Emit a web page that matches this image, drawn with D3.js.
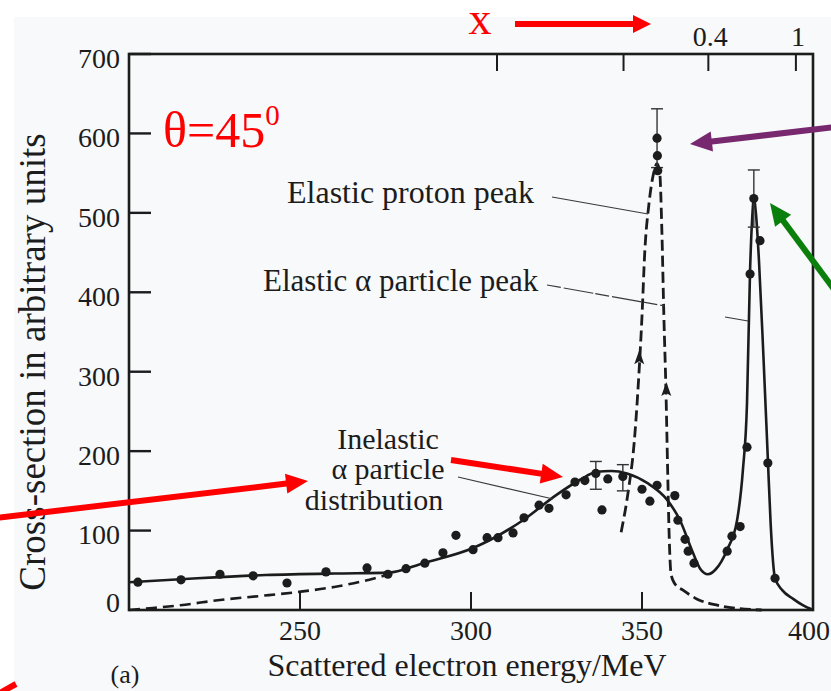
<!DOCTYPE html>
<html>
<head>
<meta charset="utf-8">
<script src="https://cdn.jsdelivr.net/npm/d3@7"></script>
<style>
  html, body { margin: 0; padding: 0; background: #ffffff; }
  svg { display: block; }
  text { font-family: "Liberation Serif", "Times New Roman", serif; }
</style>
</head>
<body>
<svg id="chart" width="831" height="691"></svg>
<script>
// ---- data -------------------------------------------------------------
// x tick values (scattered electron energy, MeV) and y tick values
const energyTicks = [250, 300, 350, 400];
const sectionTicks = [0, 100, 200, 300, 400, 500, 600, 700];
// upper scale: energies where the x ticks sit, and their labels
const topTickEnergies = [307.6, 344.6, 369.4, 395.0];
const topTickLabels = ["", "", "0.4", "1"];

// measured points [energy, cross-section]
const measuredE = [202.6, 215.2, 226.6, 236.3, 246.2, 257.6, 269.6, 275.7, 281.0, 286.5,
  291.8, 295.6, 300.6, 304.7, 307.9, 312.3, 315.5, 319.9, 322.8, 327.8,
  330.4, 333.3, 336.5, 338.3, 340.0, 344.4, 350.0, 352.3, 354.4, 359.6,
  360.5, 362.6, 363.5, 365.2, 374.9, 376.3, 378.7, 380.7, 381.6, 382.7,
  384.5, 386.8, 388.9, 354.4, 354.5, 354.6];
const measuredV = [35, 38, 45, 43, 34, 48, 53, 45, 52, 59,
  72, 94, 76, 91, 91, 97, 116, 132, 128, 145,
  161, 163, 172, 126, 165, 168, 152, 137, 157, 144,
  113, 89, 74, 59, 74, 93, 105, 205, 423, 518,
  465, 185, 40, 594, 572, 553];

// error bars [energy, low, high]
const errE = [336.5, 344.4, 354.4, 382.7];
const errLow = [152, 150, 557, 482];
const errHigh = [187, 183, 631, 554];

// fitted curve: inelastic alpha distribution plus elastic alpha peak
const fitE = [200, 220, 240, 260, 276, 286, 300.6, 315.2, 325, 331.9, 336.8, 341, 345.6,
  351.5, 357.3, 361.1, 364.9, 367.0, 369.3, 371.5, 374.9, 377.8, 379.5, 380.7, 381.6,
  382.2, 382.7, 383.3, 384.2, 385.5, 386.8, 387.6, 388.9, 391, 394.2, 397, 400];
const fitV = [35, 40, 44, 46, 47, 59, 78, 113, 145, 164, 174, 175, 172,
  160, 139, 113, 72, 52, 45, 51, 76, 113, 176, 260, 428,
  492, 518, 500, 440, 320, 190, 110, 40, 25, 14, 6, 0];

// dashed curve, low-energy part
const lowDashE = [200, 207, 215, 226.6, 238, 249.4, 260, 269.9, 273.4, 276];
const lowDashV = [0, 2.5, 6, 12.6, 17.5, 22.7, 29, 37.8, 41.6, 45];

// dashed curve, elastic proton peak
const protonE = [343.9, 346.0, 347.7, 349.0, 350.0, 350.8, 352.0, 353.3, 354.4, 355.2,
  355.8, 356.4, 357.0, 357.5, 357.9, 358.5, 359.6, 362, 366, 372, 378, 385];
const protonV = [98, 150, 210, 290, 370, 450, 510, 548, 562, 550,
  479, 369, 277, 176, 100, 45, 33, 25, 14, 6, 2, 0];

// direction marks on the proton curve [energy, cross-section]
const chevronE = [349.2, 357.1];
const chevronV = [317, 277];

// ---- layout -----------------------------------------------------------
const svg = d3.select("#chart");
const ink = "#1c1c1c";
const x = d3.scaleLinear().domain([200, 400]).range([129, 813]);
const y = d3.scaleLinear().domain([0, 700]).range([610, 54]);

// paper tone of the page
svg.append("rect").attr("x", 14).attr("y", 17).attr("width", 817).attr("height", 674)
  .attr("fill", "#f7f9fa");

// frame
const frame = svg.append("g").attr("fill", "none").attr("stroke", ink).attr("stroke-width", 2.6);
frame.append("rect").attr("x", x(200)).attr("y", y(700))
  .attr("width", x(400) - x(200)).attr("height", y(0) - y(700));

// y axis ticks and labels
const yAxis = svg.append("g");
sectionTicks.forEach(v => {
  if (v > 0) {
    yAxis.append("line").attr("x1", x(200)).attr("x2", x(200) + 22)
      .attr("y1", y(v)).attr("y2", y(v)).attr("stroke", ink).attr("stroke-width", 2.4);
  }
  yAxis.append("text").attr("x", 120).attr("y", y(v) + (v === 0 ? -8 : 4))
    .attr("dy", "0.35em").attr("text-anchor", "end").attr("font-size", 28)
    .attr("fill", ink).text(v);
});

// x axis ticks and labels
const xAxis = svg.append("g");
energyTicks.forEach(e => {
  const last = e === 400;
  if (!last) {
    xAxis.append("line").attr("x1", x(e)).attr("x2", x(e))
      .attr("y1", y(0)).attr("y2", y(0) - 18).attr("stroke", ink).attr("stroke-width", 2);
  }
  xAxis.append("text").attr("x", last ? 830 : x(e)).attr("y", 630).attr("dy", "0.35em")
    .attr("text-anchor", last ? "end" : "middle").attr("font-size", 28).attr("fill", ink).text(e);
});

// upper scale
topTickEnergies.forEach((e, i) => {
  svg.append("line").attr("x1", x(e)).attr("x2", x(e)).attr("y1", y(700)).attr("y2", y(700) + 17)
    .attr("stroke", ink).attr("stroke-width", 2);
  if (topTickLabels[i]) {
    svg.append("text").attr("x", x(e) + 2).attr("y", 36).attr("dy", "0.35em")
      .attr("text-anchor", "middle").attr("font-size", 28).attr("fill", ink).text(topTickLabels[i]);
  }
});

// axis titles
svg.append("text").attr("transform", "translate(32,362) rotate(-90)")
  .attr("text-anchor", "middle").attr("dy", "0.35em").attr("font-size", 37).attr("fill", ink)
  .text("Cross-section in arbitrary units");
svg.append("text").attr("x", 467).attr("y", 676).attr("text-anchor", "middle")
  .attr("font-size", 32).attr("fill", ink).text("Scattered electron energy/MeV");
svg.append("text").attr("x", 125).attr("y", 683).attr("text-anchor", "middle")
  .attr("font-size", 26).attr("fill", ink).text("(a)");

// curves
const line = d3.line().x(d => x(d[0])).y(d => y(d[1])).curve(d3.curveMonotoneX);
const zip = (a, b) => a.map((v, i) => [v, b[i]]);

svg.append("path").datum(zip(lowDashE, lowDashV)).attr("d", line)
  .attr("fill", "none").attr("stroke", ink).attr("stroke-width", 2.6)
  .attr("stroke-dasharray", "11,6");
svg.append("path").datum(zip(protonE, protonV)).attr("d", line)
  .attr("fill", "none").attr("stroke", ink).attr("stroke-width", 2.8)
  .attr("stroke-dasharray", "11,5");
svg.append("path").datum(zip(fitE, fitV)).attr("d", line)
  .attr("fill", "none").attr("stroke", ink).attr("stroke-width", 2.6);

// direction marks on the dashed peak
chevronE.forEach((e, i) => {
  const cx = x(e), cy = y(chevronV[i]);
  svg.append("path").attr("d", `M${cx},${cy - 8} L${cx - 5},${cy + 6} L${cx},${cy + 3} L${cx + 5},${cy + 6} Z`)
    .attr("fill", ink);
});

// error bars
errE.forEach((e, i) => {
  const g = svg.append("g").attr("stroke", "#333").attr("stroke-width", 1.4);
  g.append("line").attr("x1", x(e)).attr("x2", x(e)).attr("y1", y(errLow[i])).attr("y2", y(errHigh[i]));
  [errLow[i], errHigh[i]].forEach(v => g.append("line")
    .attr("x1", x(e) - 6).attr("x2", x(e) + 6).attr("y1", y(v)).attr("y2", y(v)));
});

// measured points
svg.append("g").selectAll("circle").data(zip(measuredE, measuredV)).join("circle")
  .attr("cx", d => x(d[0])).attr("cy", d => y(d[1])).attr("r", 4.6).attr("fill", ink);

// peak labels with leader lines
const labels = svg.append("g").attr("fill", ink);
labels.append("text").attr("x", 287).attr("y", 203).attr("font-size", 32).text("Elastic proton peak");
labels.append("text").attr("x", 263).attr("y", 291).attr("font-size", 31).text("Elastic \u03b1 particle peak");
const inel = labels.append("text").attr("text-anchor", "middle").attr("font-size", 30);
inel.append("tspan").attr("x", 388).attr("y", 449).text("Inelastic");
inel.append("tspan").attr("x", 388).attr("y", 479).text("\u03b1 particle");
inel.append("tspan").attr("x", 374).attr("y", 510).text("distribution");

const leaders = svg.append("g").attr("stroke", "#3a3a3a").attr("stroke-width", 1.2).attr("fill", "none");
leaders.append("line").attr("x1", 552).attr("y1", 197).attr("x2", 648).attr("y2", 214);
leaders.append("line").attr("x1", 547).attr("y1", 285).attr("x2", 665).attr("y2", 306)
  .attr("stroke-dasharray", "14,3,30,2");
leaders.append("line").attr("x1", 725).attr("y1", 317).attr("x2", 748).attr("y2", 321);
leaders.append("line").attr("x1", 458).attr("y1", 477).attr("x2", 553).attr("y2", 499);

// ---- coloured annotations ----------------------------------------------
function arrow(x1, y1, x2, y2, color, width, headLen, headW) {
  const ang = Math.atan2(y2 - y1, x2 - x1);
  const bx = x2 - headLen * Math.cos(ang), by = y2 - headLen * Math.sin(ang);
  const px = Math.sin(ang) * headW / 2, py = -Math.cos(ang) * headW / 2;
  svg.append("line").attr("x1", x1).attr("y1", y1).attr("x2", bx + (x2 - bx) * 0.2).attr("y2", by + (y2 - by) * 0.2)
    .attr("stroke", color).attr("stroke-width", width);
  svg.append("path").attr("d", `M${x2},${y2} L${bx + px},${by + py} L${bx - px},${by - py} Z`)
    .attr("fill", color);
}

const red = "#ff0000";
svg.append("text").attr("x", 480).attr("y", 34).attr("text-anchor", "middle")
  .attr("font-size", 46).attr("fill", red).text("x");
arrow(515, 24, 651, 24, red, 6, 18, 18);

const theta = svg.append("text").attr("x", 163).attr("y", 147).attr("font-size", 50).attr("fill", red);
theta.append("tspan").text("\u03b8=45");
theta.append("tspan").attr("font-size", 29).attr("dy", -22).text("0");

arrow(-4, 518, 308, 481, red, 6, 22, 20);
arrow(451, 460, 563, 477, red, 6, 22, 20);
svg.append("line").attr("x1", -4).attr("y1", 695).attr("x2", 16).attr("y2", 684)
  .attr("stroke", red).attr("stroke-width", 6);

arrow(836, 127, 690, 144, "#77286f", 6, 22, 20);
arrow(836, 292, 770, 203, "#0b7f0b", 6, 22, 20);
</script>
</body>
</html>
